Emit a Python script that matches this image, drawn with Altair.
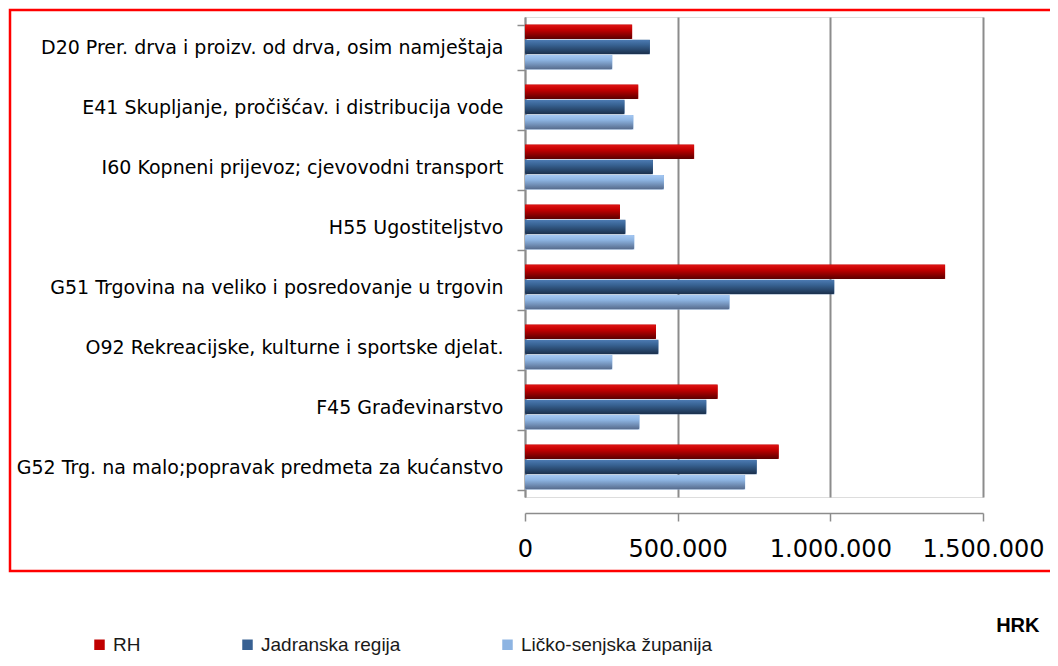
import altair as alt
import pandas as pd

categories = [
    "D20 Prer. drva i proizv. od drva, osim namještaja",
    "E41 Skupljanje, pročišćav. i distribucija vode",
    "I60 Kopneni prijevoz; cjevovodni transport",
    "H55 Ugostiteljstvo",
    "G51  Trgovina na veliko i posredovanje u  trgovin",
    "O92 Rekreacijske, kulturne i sportske djelat.",
    "F45 Građevinarstvo",
    "G52 Trg. na malo;popravak predmeta za kućanstvo",
]
series = ["RH", "Jadranska regija", "Ličko-senjska županija"]
rh = [351000, 371000, 554000, 311000, 1376000, 429000, 631000, 831000]
jadran = [409000, 326000, 419000, 329000, 1013000, 437000, 594000, 759000]
lika = [286000, 355000, 455000, 358000, 670000, 286000, 375000, 721000]
x_ticks = [0, 500000, 1000000, 1500000]

colors = ["#c00000", "#376092", "#8db4e2"]
grad_stops = [
    ["#e01414", "#c40000", "#5a0000"],
    ["#4d7bb3", "#386393", "#1a2e4a"],
    ["#a6c8f2", "#8db4e2", "#55698a"],
]

rows = []
for s, vals in zip(series, [rh, jadran, lika]):
    for c, v in zip(categories, vals):
        rows.append({"cat": c, "series": s, "value": v})
df = pd.DataFrame(rows)

x_enc = alt.X(
    "value:Q",
    scale=alt.Scale(domain=[0, 1500000], nice=False),
    axis=alt.Axis(
        values=x_ticks,
        labelExpr="replace(replace(format(datum.value, ','), ',', '.'), ',', '.')",
        labelFont="DejaVu Sans",
        labelFontSize=24,
        labelColor="#000000",
        labelPadding=16,
        labelOverlap=False,
        labelFlush=False,
        domainColor="#8c8c8c",
        domainWidth=1.5,
        tickColor="#8c8c8c",
        tickWidth=1.5,
        tickSize=8,
        grid=True,
        gridColor="#8c8c8c",
        gridWidth=2,
        offset=16,
        title="HRK",
        titleFont="Liberation Sans",
        titleFontWeight="bold",
        titleFontSize=20,
        titleColor="#000000",
        titleX=514,
        titleY=112,
        titleAlign="right",
        titleBaseline="middle",
    ),
)
y_enc = alt.Y(
    "cat:N",
    sort=categories,
    title=None,
    scale=alt.Scale(paddingInner=0.25, paddingOuter=0.125),
    axis=alt.Axis(
        tickBand="extent",
        labelFont="DejaVu Sans",
        labelFontSize=19,
        labelColor="#000000",
        labelPadding=14,
        labelLimit=520,
        domainColor="#8c8c8c",
        domainWidth=1.5,
        tickColor="#8c8c8c",
        tickWidth=1.5,
        tickSize=8,
        grid=False,
    ),
)
yoff_enc = alt.YOffset("series:N", sort=series, scale=alt.Scale(domain=series, paddingInner=0.04))

base = alt.Chart(df).encode(x=x_enc, y=y_enc, yOffset=yoff_enc)

legend_layer = base.mark_bar().encode(
    color=alt.Color(
        "series:N",
        sort=series,
        scale=alt.Scale(domain=series, range=colors),
        legend=alt.Legend(
            title=None,
            orient="none",
            legendX=-435,
            legendY=618,
            direction="horizontal",
            columns=3,
            columnPadding=97,
            symbolType="square",
            symbolSize=110,
            symbolStrokeWidth=0,
            labelFont="Liberation Sans",
            labelFontSize=19,
            labelColor="#1a1a1a",
            labelOffset=4,
            labelLimit=400,
        ),
    )
)

layers = [legend_layer]
for s, stops in zip(series, grad_stops):
    g = alt.LinearGradient(
        gradient="linear",
        x1=0, y1=0, x2=0, y2=1,
        stops=[
            alt.GradientStop(offset=0, color=stops[0]),
            alt.GradientStop(offset=0.35, color=stops[1]),
            alt.GradientStop(offset=1, color=stops[2]),
        ],
    )
    layers.append(
        base.transform_filter(alt.datum.series == s).mark_bar(color=g, cornerRadius=2)
    )

border = alt.Chart(pd.DataFrame({"a": [0]})).mark_rect(
    fillOpacity=0, stroke="#ff0000", strokeWidth=2.5
).encode(
    x=alt.value(-515), x2=alt.value(540), y=alt.value(-7), y2=alt.value(554)
)

chart = alt.layer(*layers, border).properties(
    width=458,
    height=480,
    autosize="none",
    padding={"left": 517, "top": 9, "right": 67, "bottom": 161},
).configure_view(stroke=None, fill="#fbfbfb").configure(background="#ffffff")

chart.save("out.html", embed_options={"renderer": "svg", "actions": False})
